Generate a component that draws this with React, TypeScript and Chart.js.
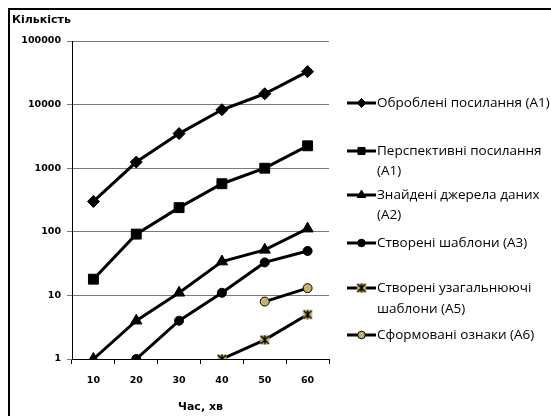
import React, { useEffect, useRef } from 'react';
import { Chart, registerables } from 'chart.js';
import { drawPoint } from 'chart.js/helpers';

Chart.register(...registerables);

const categories = ['10', '20', '30', '40', '50', '60'];
const processedLinks = [300, 1250, 3500, 8300, 14800, 33000];
const promisingLinks = [18, 92, 240, 570, 1000, 2250];
const foundSources = [1, 4, 11, 34, 52, 112];
const createdTemplates = [null, 1, 4, 11, 33, 50];
const generalTemplates = [null, null, null, 1, 2, 5];
const formedFeatures = [null, null, null, null, 8, 13];
const yTicks = [1, 10, 100, 1000, 10000, 100000];
const seriesLabels = [
  ['Оброблені посилання (А1)'],
  ['Перспективні посилання', '(А1)'],
  ['Знайдені джерела даних', '(А2)'],
  ['Створені шаблони (А3)'],
  ['Створені узагальнюючі', 'шаблони (А5)'],
  ['Сформовані ознаки (А6)'],
];
const yTitle = 'Кількість';
const xTitle = 'Час, хв';

const TAN = '#C6B36B';
const TICK_FONT = { family: 'DejaVu Sans', size: 9.5, weight: 'bold' as const };

function makeStarMarker(): HTMLCanvasElement {
  const c = document.createElement('canvas');
  c.width = 12;
  c.height = 12;
  const g = c.getContext('2d')!;
  g.fillStyle = TAN;
  g.fillRect(1.5, 1.5, 9, 9);
  g.strokeStyle = '#000';
  g.lineWidth = 1.5;
  g.beginPath();
  g.moveTo(2, 2); g.lineTo(10, 10);
  g.moveTo(10, 2); g.lineTo(2, 10);
  g.moveTo(6, 1.5); g.lineTo(6, 10.5);
  g.stroke();
  return c;
}

export default function App() {
  const ref = useRef<HTMLCanvasElement | null>(null);

  useEffect(() => {
    document.body.style.margin = '0';
    const star = makeStarMarker();

    const styles = [
      { pointStyle: 'rectRot', radius: 6, legendR: 4.5, bg: '#000', border: '#000', bw: 1 },
      { pointStyle: 'rect', radius: 7, legendR: 5, bg: '#000', border: '#000', bw: 1 },
      { pointStyle: 'triangle', radius: 6.5, legendR: 5, bg: '#000', border: '#000', bw: 1 },
      { pointStyle: 'circle', radius: 4.5, legendR: 3.8, bg: '#000', border: '#000', bw: 1 },
      { pointStyle: star as any, radius: 6, legendR: 6, bg: TAN, border: '#000', bw: 1 },
      { pointStyle: 'circle', radius: 4.5, legendR: 3.8, bg: TAN, border: '#000', bw: 1 },
    ];
    const values = [processedLinks, promisingLinks, foundSources, createdTemplates, generalTemplates, formedFeatures];

    const datasets = values.map((d, i) => ({
      label: seriesLabels[i].join(' '),
      data: d,
      borderColor: '#000',
      borderWidth: 3,
      backgroundColor: styles[i].bg,
      pointStyle: styles[i].pointStyle,
      pointRadius: styles[i].radius,
      pointBorderColor: styles[i].border,
      pointBorderWidth: styles[i].bw,
      pointBackgroundColor: styles[i].bg,
      tension: 0,
      spanGaps: false,
    }));

    const legendY = [[103], [151, 171], [195, 215], [243], [288, 309], [335]];

    const decor = {
      id: 'decor',
      afterDraw(chart: any) {
        const ctx = chart.ctx as CanvasRenderingContext2D;
        ctx.save();
        // border
        ctx.fillStyle = '#000';
        ctx.fillRect(8, 8, chart.width - 8, 2);
        ctx.fillRect(8, 8, 2, chart.height - 8);
        // y title
        ctx.font = 'bold 11px "DejaVu Sans"';
        ctx.textBaseline = 'middle';
        ctx.textAlign = 'left';
        ctx.fillText(yTitle, 12, 20);
        // legend
        ctx.font = '13.5px "Open Sans"';
        for (let i = 0; i < seriesLabels.length; i++) {
          const ys = legendY[i];
          const y0 = ys[0];
          ctx.strokeStyle = '#000';
          ctx.lineWidth = 3;
          ctx.beginPath();
          ctx.moveTo(347, y0);
          ctx.lineTo(376, y0);
          ctx.stroke();
          const s = styles[i];
          ctx.fillStyle = s.bg;
          ctx.strokeStyle = s.border;
          ctx.lineWidth = s.bw;
          if (typeof s.pointStyle === 'string') {
            drawPoint(ctx, { pointStyle: s.pointStyle, radius: s.legendR, rotation: 0, borderWidth: s.bw } as any, 361.5, y0);
          } else {
            ctx.drawImage(s.pointStyle as HTMLCanvasElement, 361.5 - 6, y0 - 6);
          }
          ctx.fillStyle = '#000';
          seriesLabels[i].forEach((t, k) => {
            ctx.fillText(t, 377, ys[k]);
          });
        }
        ctx.restore();
      },
    };

    const chart = new Chart(ref.current!, {
      type: 'line',
      data: { labels: categories, datasets: datasets as any },
      plugins: [decor],
      options: {
        animation: false,
        responsive: false,
        layout: { padding: { left: 0, right: 222, top: 41, bottom: 0 } },
        plugins: { legend: { display: false }, tooltip: { enabled: false }, title: { display: false } },
        scales: {
          x: {
            type: 'category',
            offset: true,
            afterFit: (s: any) => { s.height = 57; },
            grid: { offset: true, drawOnChartArea: false, drawTicks: true, tickLength: 5, color: '#000', lineWidth: 1 },
            border: { color: '#000', width: 1 },
            ticks: { color: '#000', font: TICK_FONT, padding: 11, maxRotation: 0 },
            title: {
              display: true,
              text: xTitle,
              color: '#000',
              font: { family: 'DejaVu Sans', size: 11, weight: 'bold' },
              padding: { top: 0, bottom: 2 },
            },
          },
          y: {
            type: 'logarithmic',
            min: 1,
            max: 100000,
            afterFit: (s: any) => { s.width = 72; },
            afterBuildTicks: (s: any) => { s.ticks = yTicks.map((v) => ({ value: v })); },
            grid: { color: '#7a7a7a', lineWidth: 1, tickLength: 5, drawTicks: true },
            border: { color: '#000', width: 1 },
            ticks: {
              color: '#000',
              font: TICK_FONT,
              padding: 6,
              callback: (v: any) => String(v),
            },
          },
        },
      },
    });
    return () => chart.destroy();
  }, []);

  return <canvas ref={ref} width={551} height={416} style={{ display: 'block' }} />;
}
